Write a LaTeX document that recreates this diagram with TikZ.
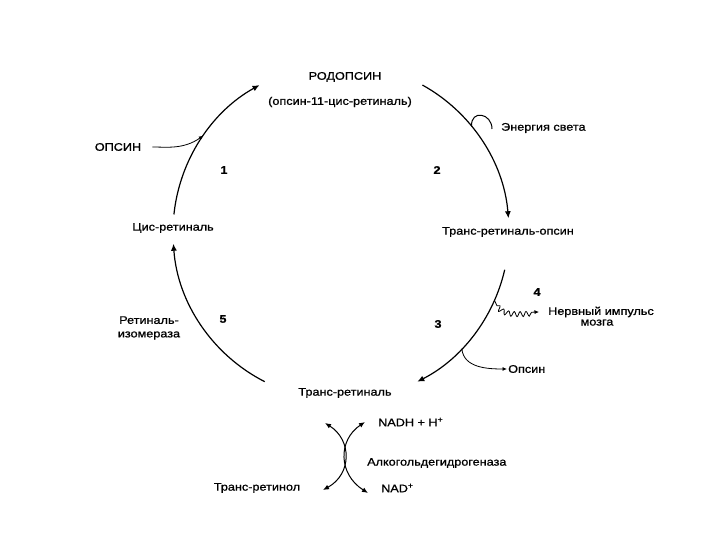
\documentclass[tikz,border=0pt]{standalone}
\usepackage{fontspec}
\setmainfont{Liberation Sans}[FakeStretch=1.15, FakeBold=1]
\usetikzlibrary{arrows.meta,decorations.pathmorphing}

\begin{document}
\begin{tikzpicture}[x=1pt,y=1pt,
    cyc/.style={line width=1.2pt, -{Latex[length=7pt,width=6pt]}},
    side/.style={line width=0.8pt, -{Latex[length=4.5pt,width=4pt]}},
    lbl/.style={font=\fontsize{11}{13.5}\selectfont, inner sep=1pt},
    num/.style={font=\fontsize{11}{13.5}\selectfont\bfseries, inner sep=1pt}]
    \useasboundingbox (0,0) rectangle (720,540);

    \node [coordinate] (c) at (341,308) {};

    % labels round the cycle
    \node [lbl] (rhodopsin label) at (345,463) {РОДОПСИН};
    \node [lbl] (rhodopsin sub) at (340,438) {(опсин-11-цис-ретиналь)};
    \node [lbl] (opsin in) at (118,393) {ОПСИН};
    \node [lbl, anchor=west] (light label) at (500,412) {Энергия света};
    \node [lbl] (trans opsin) at (508,308) {Транс-ретиналь-опсин};
    \node [lbl, anchor=west] (nerve label) at (547,228) {Нервный импульс};
    \node [lbl, anchor=north] (brain label) at ([xshift=50pt]nerve label.south west) {мозга};
    \node [lbl, anchor=west] (opsin out) at (507,171) {Опсин};
    \node [lbl] (trans retinal) at (345,147) {Транс-ретиналь};
    \node [lbl] (cis retinal) at (173,312) {Цис-ретиналь};
    \node [lbl, align=center] (isomerase) at (149,212) {Ретиналь-\\изомераза};

    \node [num] (step 1) at (224,370) {1};
    \node [num] (step 2) at (437,370) {2};
    \node [num] (step 3) at (438,216) {3};
    \node [num] (step 4) at (537,248) {4};
    \node [num] (step 5) at (223,221) {5};

    % points on the cycle
    \path (c) ++(174:168) coordinate (arc 1 start);
    \path (c) ++(61:168) coordinate (arc 2 start);
    \path (c) ++(-13:168) coordinate (arc 3 start);
    \path (c) ++(-117:168) coordinate (arc 5 start);
    \path (c) ++(145:168) coordinate (opsin join);
    \path (c) ++(39:168) coordinate (light join);
    \path (c) ++(-24:168) coordinate (nerve join);
    \path (c) ++(-44:168) coordinate (opsin split);

    \draw [cyc] (arc 1 start) arc [start angle=174, end angle=119, radius=168];
    \draw [cyc] (arc 2 start) arc [start angle=61, end angle=4.7, radius=168];
    \draw [cyc] (arc 3 start) arc [start angle=-13, end angle=-63, radius=168];
    \draw [cyc] (arc 5 start) arc [start angle=-117, end angle=-176, radius=168];

    \draw [side, shorten <=10pt] (opsin in.east) to [out=0, in=215] (opsin join);
    \node [coordinate] (light end) at (492,411) {};
    \draw [line width=1pt] (light join) .. controls +(-1,17) and +(0,16) .. (light end);
    \node [coordinate] (nerve tip) at ([xshift=-8pt]nerve label.west) {};
    \draw [side, decorate, decoration={snake, amplitude=2.5pt, segment length=6pt, pre length=6pt, post length=5pt}] (nerve join) to [out=-75, in=180] (nerve tip);
    \draw [side] (opsin split) to [out=-85, in=180] (opsin out.west);

    % alcohol dehydrogenase step
    \node [coordinate] (tl) at (325,117) {};
    \node [coordinate] (tr) at (365,118) {};
    \node [coordinate] (bl) at (323,50) {};
    \node [coordinate] (br) at (368,47) {};
    \draw [line width=1pt, {Latex[length=6pt,width=5pt]}-{Latex[length=6pt,width=5pt]}] (tl) .. controls (352,100) and (352,66) .. (bl);
    \draw [line width=1pt, {Latex[length=6pt,width=5pt]}-{Latex[length=6pt,width=5pt]}] (tr) .. controls (338,100) and (338,66) .. (br);

    \node [lbl, anchor=west] (nadh) at (377,118) {NADH + H\textsuperscript{+}};
    \node [lbl, anchor=west] (adh) at (366,77) {Алкогольдегидрогеназа};
    \node [lbl, anchor=west] (nad) at (380,52) {NAD\textsuperscript{+}};
    \node [lbl] (trans retinol) at (257,52) {Транс-ретинол};
\end{tikzpicture}
\end{document}
